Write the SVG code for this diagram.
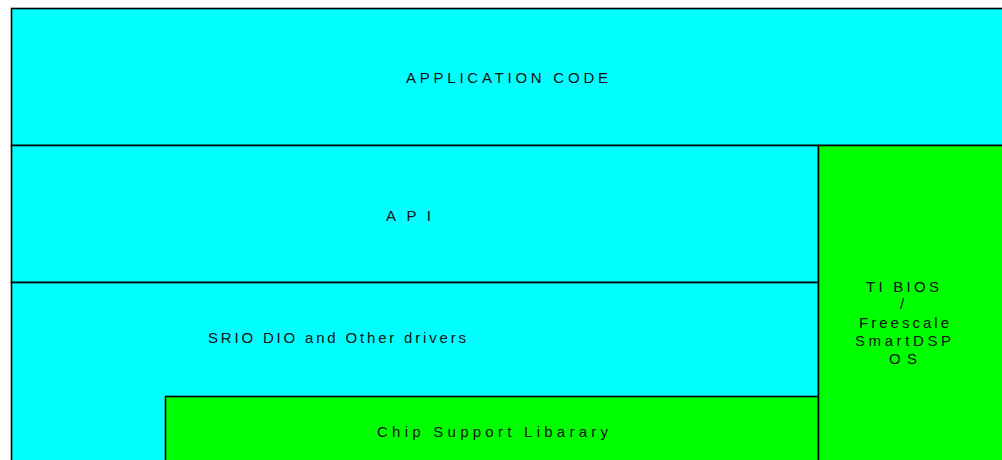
<svg xmlns="http://www.w3.org/2000/svg" width="1002" height="460" viewBox="0 0 1002 460">
  <style>
    .layer { stroke: #000; stroke-width: 1.6; }
    .cyan { fill: #00ffff; }
    .green { fill: #00ff00; }
    .lbl { font-family: "Liberation Sans", Arial, sans-serif; font-size: 15px; fill: #111; }
  </style>
  <rect width="1002" height="460" fill="#ffffff"/>

  <g id="application-code">
    <rect class="layer cyan" x="11.5" y="8.5" width="1010" height="137"/>
    <text class="lbl" x="406" y="82.5" textLength="202" lengthAdjust="spacing">APPLICATION CODE</text>
  </g>

  <g id="api">
    <rect class="layer cyan" x="11.5" y="145.5" width="807" height="137"/>
    <text class="lbl" x="386" y="220.5" textLength="45" lengthAdjust="spacing">API</text>
  </g>

  <g id="srio-drivers">
    <rect class="layer cyan" x="11.5" y="282.5" width="807" height="200"/>
    <text class="lbl" x="208" y="342.5" textLength="258" lengthAdjust="spacing">SRIO DIO and Other drivers</text>
  </g>

  <g id="chip-support-library">
    <rect class="layer green" x="165.5" y="396.5" width="653" height="90"/>
    <text class="lbl" x="377" y="436.5" textLength="231" lengthAdjust="spacing">Chip Support Libarary</text>
  </g>

  <g id="rtos">
    <rect class="layer green" x="818.5" y="145.5" width="210" height="340"/>
    <text class="lbl" x="866" y="291.5" textLength="73" lengthAdjust="spacing">TI BIOS</text>
    <text class="lbl" x="902" y="308.5" text-anchor="middle">/</text>
    <text class="lbl" x="859" y="327.5" textLength="90" lengthAdjust="spacing">Freescale</text>
    <text class="lbl" x="855" y="345.5" textLength="96" lengthAdjust="spacing">SmartDSP</text>
    <text class="lbl" x="889" y="363.5" textLength="28" lengthAdjust="spacing">OS</text>
  </g>

  <g id="connectors"/>
</svg>
